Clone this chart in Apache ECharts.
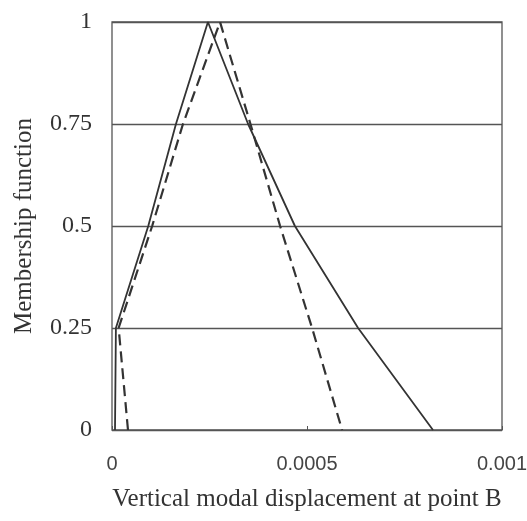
<!DOCTYPE html>
<html>
<head>
<meta charset="utf-8">
<script src="https://cdn.jsdelivr.net/npm/echarts@6/dist/echarts.min.js"></script>
<style>
  html, body { margin: 0; padding: 0; background: #fff; }
  #chart { width: 527px; height: 521px; }
</style>
</head>
<body>
<div id="chart"></div>
<script>
// membership levels shared by both curves (rising then falling side)
const levels = [0, 0.25, 0.5, 0.75, 1, 0.75, 0.5, 0.25, 0]
// vertical modal displacement at point B, solid curve
const solidX = [0.0000077, 0.00001, 0.000093, 0.000164, 0.000246, 0.000349, 0.000469, 0.000631, 0.000823]
// dashed curve
const dashedX = [0.000041, 0.000017, 0.000103, 0.000182, 0.000277, 0.000355, 0.000431, 0.000513, 0.00059]
const xTicks = [0, 0.0005, 0.001]
const yTicks = [0, 0.25, 0.5, 0.75, 1]

const pairs = (xs) => xs.map((x, i) => [x, levels[i]])

const myChart = echarts.init(document.getElementById('chart'))

myChart.setOption({
  animation: false,
  grid: {
    left: 112,
    right: 25,
    top: 22,
    bottom: 91,
    outerBoundsMode: 'none',
    containLabel: false,
    show: true,
    borderColor: '#555',
    borderWidth: 1.3
  },
  xAxis: {
    type: 'value',
    min: xTicks[0],
    max: xTicks[xTicks.length - 1],
    interval: xTicks[1] - xTicks[0],
    name: 'Vertical modal displacement at point B',
    nameLocation: 'middle',
    nameGap: 57,
    nameTextStyle: {
      fontFamily: 'Liberation Serif',
      fontSize: 25,
      color: '#333'
    },
    axisLine: { show: false },
    axisTick: {
      show: true,
      inside: true,
      length: 4,
      lineStyle: { color: '#555' }
    },
    splitLine: { show: false },
    axisLabel: {
      margin: 24,
      fontFamily: 'Liberation Sans',
      fontSize: 20,
      color: '#444',
      formatter: (v) => String(v)
    }
  },
  yAxis: {
    type: 'value',
    min: yTicks[0],
    max: yTicks[yTicks.length - 1],
    interval: yTicks[1] - yTicks[0],
    name: 'Membership function',
    nameLocation: 'middle',
    nameGap: 75,
    nameTextStyle: {
      fontFamily: 'Liberation Serif',
      fontSize: 25,
      color: '#333'
    },
    axisLine: { show: false },
    axisTick: { show: false },
    splitLine: {
      show: true,
      lineStyle: { color: '#555', width: 1.3 }
    },
    axisLabel: {
      margin: 20,
      fontFamily: 'Liberation Serif',
      fontSize: 24,
      color: '#333',
      formatter: (v) => String(v)
    }
  },
  series: [
    {
      name: 'solid',
      type: 'line',
      data: pairs(solidX),
      showSymbol: false,
      lineStyle: { color: '#333', width: 1.8 }
    },
    {
      name: 'dashed',
      type: 'line',
      data: pairs(dashedX),
      showSymbol: false,
      lineStyle: { color: '#333', width: 2.2, type: [11, 6] }
    }
  ]
})
</script>
</body>
</html>
